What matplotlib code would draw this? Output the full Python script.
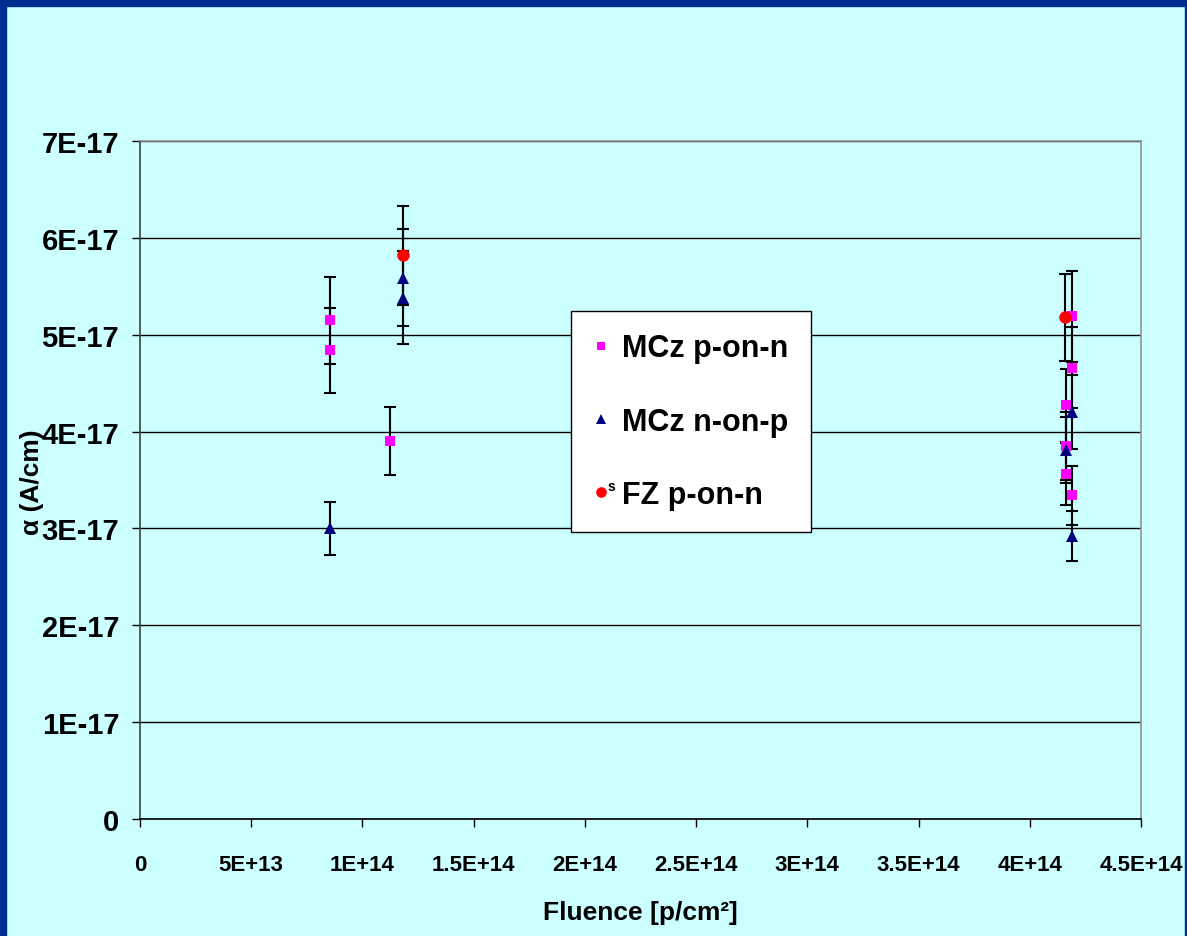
import matplotlib
matplotlib.use("Agg")
import matplotlib.pyplot as plt
from matplotlib.patches import Rectangle

# values in units of 1E-17 A/cm, fluence in p/cm^2
mcz_pn_x = [8.55e13, 8.55e13, 1.124e14, 4.162e14, 4.162e14, 4.162e14, 4.188e14, 4.188e14, 4.188e14]
mcz_pn_y = [5.15, 4.84, 3.90, 4.27, 3.85, 3.56, 5.19, 4.66, 3.34]
mcz_pn_err = [0.45, 0.44, 0.35, 0.38, 0.35, 0.32, 0.47, 0.42, 0.30]

mcz_np_x = [8.55e13, 1.181e14, 1.181e14, 4.162e14, 4.188e14, 4.188e14]
mcz_np_y = [3.00, 5.59, 5.38, 3.81, 4.20, 2.92]
mcz_np_err = [0.27, 0.50, 0.48, 0.34, 0.38, 0.26]

fz_x = [1.181e14, 4.160e14]
fz_y = [5.82, 5.18]
fz_err = [0.51, 0.45]

x_ticks = [0, 5e13, 1e14, 1.5e14, 2e14, 2.5e14, 3e14, 3.5e14, 4e14, 4.5e14]
x_ticklabels = ["0", "5E+13", "1E+14", "1.5E+14", "2E+14", "2.5E+14", "3E+14", "3.5E+14", "4E+14", "4.5E+14"]
y_ticks = [0, 1, 2, 3, 4, 5, 6, 7]
y_ticklabels = ["0", "1E-17", "2E-17", "3E-17", "4E-17", "5E-17", "6E-17", "7E-17"]

series = [
    ("MCz p-on-n", mcz_pn_x, mcz_pn_y, mcz_pn_err, "s", "#FF00FF", 6.8),
    ("MCz n-on-p", mcz_np_x, mcz_np_y, mcz_np_err, "^", "#000080", 9),
    ("FZ p-on-n", fz_x, fz_y, fz_err, "o", "#FF0000", 9),
]

plt.rcParams["font.family"] = ["Liberation Sans", "DejaVu Sans"]
plt.rcParams["font.weight"] = "bold"

BG = "#CCFFFF"
W, H = 1187, 937
fig = plt.figure(figsize=(W / 100, H / 100), dpi=100, facecolor=BG)
ax = fig.add_axes([140 / W, 1 - 820 / H, 1001 / W, 678 / H], facecolor=BG)

# blue frame of the slide
frame = "#00308F"
fig.patches.append(Rectangle((0, 1 - 7 / H), 1, 7 / H, transform=fig.transFigure, color=frame, zorder=10))
fig.patches.append(Rectangle((0, 0), 6 / W, 1, transform=fig.transFigure, color=frame, zorder=10))
fig.patches.append(Rectangle((1 - 2 / W, 0), 2 / W, 1, transform=fig.transFigure, color=frame, zorder=10))

for label, xs, ys, es, mk, col, ms in series:
    ax.errorbar(xs, [v * 1e-17 for v in ys], yerr=[e * 1e-17 for e in es], fmt="none",
                ecolor="black", elinewidth=1.5, capsize=4.2, capthick=1.5, zorder=3)
for label, xs, ys, es, mk, col, ms in series:
    ax.plot(xs, [v * 1e-17 for v in ys], linestyle="none", marker=mk, color=col,
            markersize=ms, markeredgewidth=0, label=label, zorder=4)

ax.set_xlim(0, 4.5e14)
ax.set_ylim(0, 7e-17)
ax.set_xticks(x_ticks)
ax.set_xticklabels(x_ticklabels, fontsize=16, fontweight="bold")
ax.set_yticks([v * 1e-17 for v in y_ticks])
ax.set_yticklabels(y_ticklabels, fontsize=21, fontweight="bold")
ax.tick_params(axis="x", direction="out", length=6, width=1, pad=19, colors="black")
ax.tick_params(axis="y", direction="out", length=6, width=1, pad=9, colors="black")
ax.yaxis.grid(True, color="black", linewidth=1)
ax.set_axisbelow(True)

ax.spines["left"].set_color("#404040")
ax.spines["bottom"].set_color("black")
ax.spines["top"].set_color("#909090")
ax.spines["right"].set_color("#909090")
for s in ax.spines.values():
    s.set_linewidth(1.2)

fig.text(640 / W, 1 - 913 / H, "Fluence [p/cm²]", ha="center", va="center",
         fontsize=19, fontweight="bold")
fig.text(32 / W, 1 - 482 / H, "α (A/cm)", ha="center", va="center", rotation=90,
         fontsize=19, fontweight="bold")

leg = ax.legend(loc="upper left", bbox_to_anchor=(571 / W, 1 - 312 / H),
                bbox_transform=fig.transFigure, fontsize=22, frameon=True,
                fancybox=False, framealpha=1, edgecolor="black", facecolor="white",
                borderpad=0.73, handlelength=0.5, handletextpad=0.45, labelspacing=1.42,
                borderaxespad=0, markerscale=0.85)
leg.get_frame().set_linewidth(1)
for t in leg.get_texts():
    t.set_fontweight("bold")
fig.text(611 / W, 1 - 487 / H, "s", fontsize=10, ha="center", va="center", zorder=20)

fig.savefig("out.png", dpi=100, facecolor=BG)
